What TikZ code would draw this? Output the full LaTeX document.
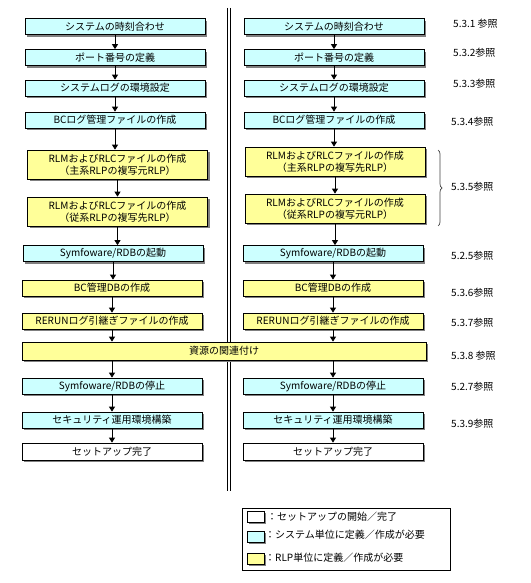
\documentclass[tikz,border=0pt]{standalone}
\usepackage{fontspec}
\setmainfont{Noto Sans CJK JP}
\usetikzlibrary{arrows.meta,shadows,decorations.pathreplacing}
\definecolor{cybox}{HTML}{CCFFFF}
\definecolor{yebox}{HTML}{FFFF99}
\definecolor{shgray}{HTML}{808080}
\begin{document}
\begin{tikzpicture}[x=1pt,y=-1pt,
  basebox/.style={draw=black, line width=0.7pt, minimum width=180pt, minimum height=16pt,
    inner sep=0pt, align=center, font=\fontsize{10}{12}\selectfont,
    drop shadow={shadow xshift=2.2pt, shadow yshift=-2.2pt, fill=shgray, opacity=1}},
  cbox/.style={basebox, fill=cybox},
  ybox/.style={basebox, fill=yebox},
  wbox/.style={basebox, fill=white},
  tall/.style={minimum height=29pt},
  arr/.style={line width=0.8pt, -{Triangle[length=5pt,width=6pt]}},
  ref/.style={anchor=west, inner sep=0pt, font=\fontsize{10}{12}\selectfont},
  leg/.style={anchor=west, inner sep=0pt, font=\fontsize{10}{12}\selectfont},
  legsq/.style={draw=black, line width=0.7pt, minimum width=17pt, minimum height=11pt, inner sep=0pt,
    drop shadow={shadow xshift=2pt, shadow yshift=-2pt, fill=shgray, opacity=1}}
]
\useasboundingbox (0,0) rectangle (530,583);
% double separator
\coordinate (s1t) at (227,8); \coordinate (s1b) at (227,491);
\coordinate (s2t) at (230.5,8); \coordinate (s2b) at (230.5,491);
\draw[line width=0.8pt] (s1t) -- (s1b);
\draw[line width=0.8pt] (s2t) -- (s2b);

% left column
\node[cbox] (l1) at (115,26.5) {システムの時刻合わせ};
\node[cbox] (l2) at (115,57.5) {ポート番号の定義};
\node[cbox] (l3) at (115,88) {システムログの環境設定};
\node[cbox] (l4) at (115,120) {BCログ管理ファイルの作成};
\node[ybox,tall] (l5) at (117.5,164.5) {RLMおよびRLCファイルの作成\\（主系RLPの複写元RLP）};
\node[ybox,tall] (l6) at (117.5,211.5) {RLMおよびRLCファイルの作成\\（従系RLPの複写先RLP）};
\node[cbox] (l7) at (113,253.5) {Symfoware/RDBの起動};
\node[ybox] (l8) at (112,288) {BC管理DBの作成};
\node[ybox] (l9) at (112,321) {RERUNログ引継ぎファイルの作成};
\node[ybox, minimum width=404pt, minimum height=18pt] (l10) at (224,351) {資源の関連付け};
\node[cbox] (l11) at (112,386) {Symfoware/RDBの停止};
\node[cbox] (l12) at (112,420) {セキュリティ運用環境構築};
\node[wbox, minimum height=17pt] (l13) at (112,451.5) {セットアップ完了};

% right column
\node[cbox] (r1) at (334,26.5) {システムの時刻合わせ};
\node[cbox] (r2) at (334,57.5) {ポート番号の定義};
\node[cbox] (r3) at (334,88) {システムログの環境設定};
\node[cbox] (r4) at (334,120) {BCログ管理ファイルの作成};
\node[ybox,tall] (r5) at (335,161.5) {RLMおよびRLCファイルの作成\\（主系RLPの複写先RLP）};
\node[ybox,tall] (r6) at (335,208.5) {RLMおよびRLCファイルの作成\\（従系RLPの複写元RLP）};
\node[cbox] (r7) at (333,253.5) {Symfoware/RDBの起動};
\node[ybox] (r8) at (333,288) {BC管理DBの作成};
\node[ybox] (r9) at (333,321) {RERUNログ引継ぎファイルの作成};
\node[cbox] (r11) at (333,386) {Symfoware/RDBの停止};
\node[cbox] (r12) at (333,420) {セキュリティ運用環境構築};
\node[wbox, minimum height=17pt] (r13) at (333,451.5) {セットアップ完了};

% arrows left
\foreach \a/\b in {l1/l2,l2/l3,l3/l4,l4/l5,l5/l6,l6/l7,l7/l8,l8/l9,l11/l12,l12/l13}
  \draw[arr] (\a.south) -- (\a.south |- \b.north);
\draw[arr] (l9.south) -- (l9.south |- l10.north);
\draw[arr] (l10.south -| l11.north) -- (l11.north);
% arrows right
\foreach \a/\b in {r1/r2,r2/r3,r3/r4,r4/r5,r5/r6,r6/r7,r7/r8,r8/r9,r11/r12,r12/r13}
  \draw[arr] (\a.south) -- (\a.south |- \b.north);
\draw[arr] (r9.south) -- (r9.south |- l10.north);
\draw[arr] (l10.south -| r11.north) -- (r11.north);

% brace
\coordinate (bt) at (438,150); \coordinate (bb) at (438,226);
\draw[black!75, line width=0.7pt, decorate, decoration={brace, amplitude=4pt}] (bt) -- (bb);

% references
\node[ref] (t1) at (453,24) {5.3.1 参照};
\node[ref] (t2) at (453,53) {5.3.2参照};
\node[ref] (t3) at (453,84) {5.3.3参照};
\node[ref] (t4) at (451,122) {5.3.4参照};
\node[ref] (t5) at (451,187) {5.3.5参照};
\node[ref] (t6) at (451,256) {5.2.5参照};
\node[ref] (t7) at (451,293) {5.3.6参照};
\node[ref] (t8) at (451,323) {5.3.7参照};
\node[ref] (t9) at (451,356) {5.3.8 参照};
\node[ref] (t10) at (451,387) {5.2.7参照};
\node[ref] (t11) at (451,424) {5.3.9参照};

% legend
\node[draw=black, line width=0.7pt, minimum width=208pt, minimum height=62pt, inner sep=0pt] (lg) at (346,539) {};
\node[legsq, fill=white] (q1) at (255.5,516.5) {};
\node[legsq, fill=cybox] (q2) at (255.5,536.5) {};
\node[legsq, fill=yebox] (q3) at (255.5,558.5) {};
\node[leg] (g1) at (267,517) {：セットアップの開始／完了};
\node[leg] (g2) at (265,535) {：システム単位に定義／作成が必要};
\node[leg] (g3) at (265,558) {：RLP単位に定義／作成が必要};
\end{tikzpicture}
\end{document}
